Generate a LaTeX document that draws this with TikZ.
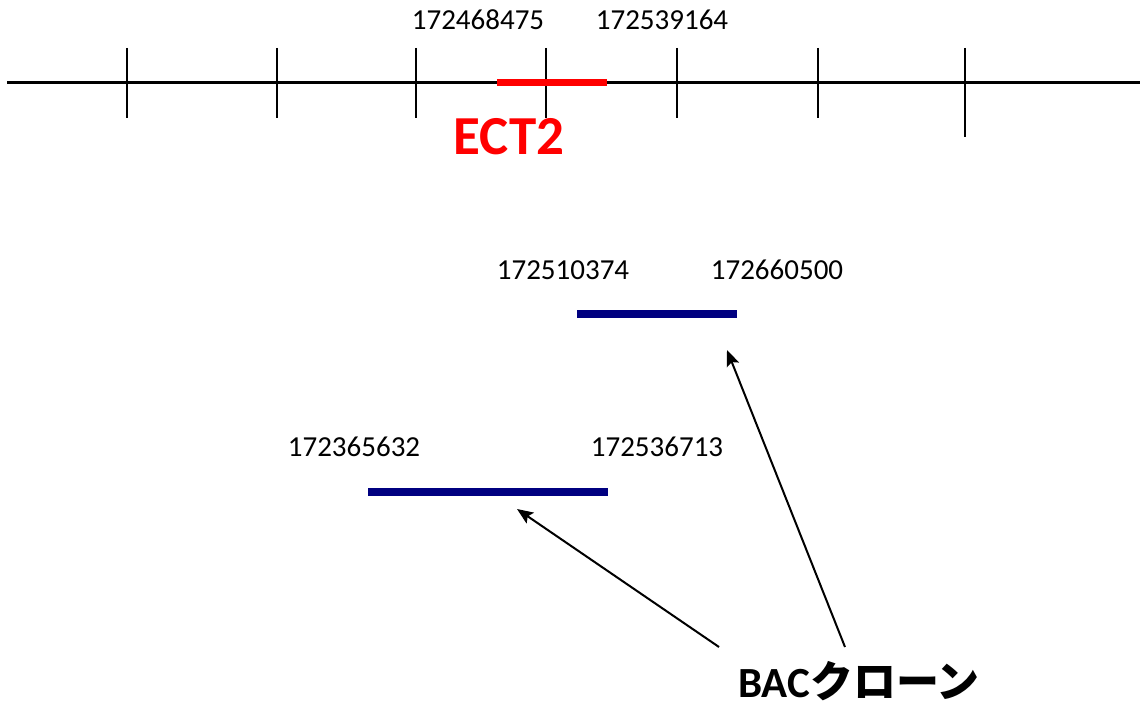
\documentclass[tikz,border=0pt]{standalone}
\usepackage{fontspec}
\setmainfont{Carlito}
\newfontfamily\jpfont{Noto Sans CJK JP}
\usetikzlibrary{arrows.meta}
\definecolor{bacblue}{RGB}{0,0,128}
\tikzset{
  axis/.style={line width=3pt, black},
  tickline/.style={line width=2pt, black},
  gene/.style={line width=7pt, red},
  clone/.style={line width=8pt, bacblue},
  coordlabel/.style={font=\fontsize{29}{32}\selectfont, inner sep=0pt},
  pointer/.style={line width=2pt, -{Stealth[length=16pt,width=13pt,inset=3pt]}},
}
\begin{document}
\begin{tikzpicture}[x=1pt,y=-1pt]
\useasboundingbox (0,0) rectangle (1140,708);

% chromosome axis with ticks
\coordinate (axL) at (7,83);
\coordinate (axR) at (1140,83);
\draw[axis] (axL) -- (axR);
\foreach \x in {127,277,416,546,677,818}
  \draw[tickline] (\x,48) -- (\x,118);
\draw[tickline] (965,48) -- (965,137);

% ECT2 gene
\coordinate (g1) at (497,83);
\coordinate (g2) at (607,83);
\draw[gene] (g1) -- (g2);
\node[text=red, font=\fontsize{55}{60}\selectfont\bfseries, inner sep=0pt, anchor=base] (ect) at (509,155) {ECT2};
\node[coordlabel] (p1) at (478,20) {172468475};
\node[coordlabel] (p2) at (662,20) {172539164};

% BAC clones
\coordinate (c1a) at (577,314);
\coordinate (c1b) at (737,314);
\draw[clone] (c1a) -- (c1b);
\node[coordlabel] (p3) at (563,270) {172510374};
\node[coordlabel] (p4) at (777,270) {172660500};

\coordinate (c2a) at (368,492);
\coordinate (c2b) at (608,492);
\draw[clone] (c2a) -- (c2b);
\node[coordlabel] (p5) at (354,447) {172365632};
\node[coordlabel] (p6) at (657,447) {172536713};

% label and pointers
\node[inner sep=0pt, anchor=base, font=\fontsize{43}{46}\selectfont\bfseries] (bac) at (859,697) {BAC{\jpfont クローン}};
\coordinate (s1) at (719,647);
\coordinate (s2) at (845,647);
\coordinate (t1) at (517,509);
\coordinate (t2) at (727,350);
\draw[pointer] (s1) -- (t1);
\draw[pointer] (s2) -- (t2);
\end{tikzpicture}
\end{document}
